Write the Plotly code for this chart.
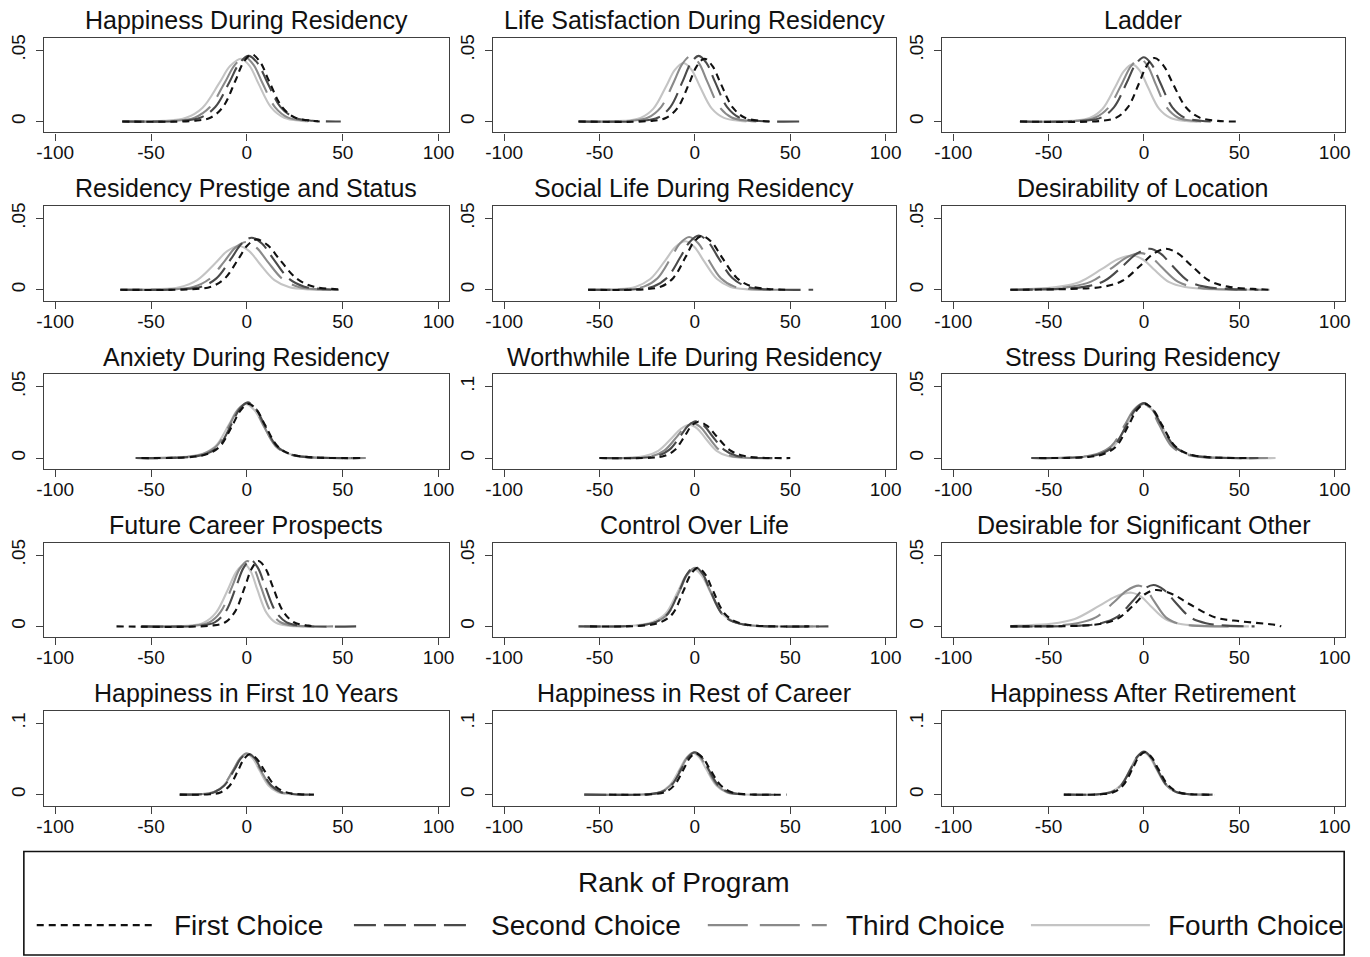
import plotly.graph_objects as go

W, H = 1370, 957

TITLES = [
    "Happiness During Residency", "Life Satisfaction During Residency", "Ladder",
    "Residency Prestige and Status", "Social Life During Residency", "Desirability of Location",
    "Anxiety During Residency", "Worthwhile Life During Residency", "Stress During Residency",
    "Future Career Prospects", "Control Over Life", "Desirable for Significant Other",
    "Happiness in First 10 Years", "Happiness in Rest of Career", "Happiness After Retirement",
]
Y_TOP_TICK = [.05, .05, .05, .05, .05, .05, .05, .1, .05, .05, .05, .05, .1, .1, .1]
Y_TOP_LABEL = [".05", ".05", ".05", ".05", ".05", ".05", ".05", ".1", ".05", ".05", ".05", ".05", ".1", ".1", ".1"]
X_TICKS = [-100, -50, 0, 50, 100]
X_TICK_LABELS = ["-100", "-50", "0", "50", "100"]
SERIES_NAMES = ["First Choice", "Second Choice", "Third Choice", "Fourth Choice"]
LEGEND_TITLE = "Rank of Program"

FIRST_X = [
    [-65, -27.3, -18.8, -12.4, -6, -1.75, 2.5, 7, 11.5, 18.3, 25, 34, 38],
    [-61, -23, -15, -9, -3, 1, 5, 9.25, 13.5, 19.9, 26.25, 34.75, 41],
    [-65, -22.5, -14.5, -8.5, -2.5, 1.5, 5.5, 10.25, 15, 22.1, 29.25, 38.75, 50],
    [-66, -28.25, -18.75, -11.6, -4.5, 0.25, 5, 11, 17, 26, 35, 47, 50],
    [-56, -26.1, -17.6, -11.3, -4.9, -0.65, 3.6, 8.85, 14.1, 22, 29.85, 40.35, 50],
    [-70, -38, -21, -11.3, -1.5, 5, 11.5, 18, 24.5, 34.3, 44, 57, 66],
    [-55, -28.75, -20.25, -13.9, -7.5, -3.25, 1, 5.25, 9.5, 15.9, 22.25, 30.75, 60],
    [-50, -22.8, -15.8, -10.55, -5.3, -1.8, 1.7, 6.45, 11.2, 18.3, 25.45, 34.95, 50],
    [-55, -29.25, -20.75, -14.4, -8, -3.75, 0.5, 5, 9.5, 16.25, 23, 32, 55],
    [-68, -18.5, -11.5, -6.25, -1, 2.5, 6, 9.75, 13.5, 19.1, 24.75, 32.25, 35],
    [-55, -24.75, -17.25, -11.6, -6, -2.25, 1.5, 5.5, 9.5, 15.5, 21.5, 29.5, 60],
    [-70, -32.5, -21.5, -13.25, -5, 0.5, 6, 15, 24, 37.5, 51, 69, 72],
    [-35, -19.5, -13.5, -9, -4.5, -1.5, 1.5, 5.25, 9, 14.6, 20.25, 27.75, 35],
    [-45, -22.25, -15.75, -10.9, -6, -2.75, 0.5, 4.25, 8, 13.6, 19.25, 26.75, 48],
    [-42, -22.25, -15.75, -10.9, -6, -2.75, 0.5, 4, 7.5, 12.75, 18, 25, 37],
]
FIRST_Y = [
    [0, .0005, .0028, .0103, .0285, .0415, .047, .0415, .0285, .0103, .0028, .0005, 0],
    [0, .0004, .0026, .0097, .0267, .0388, .044, .0388, .0267, .0097, .0026, .0004, 0],
    [0, .0004, .0027, .0098, .027, .0392, .0445, .0392, .027, .0098, .0027, .0004, 0],
    [0, .0004, .0021, .0078, .0214, .0311, .0353, .0311, .0214, .0078, .0021, .0004, 0],
    [0, .0004, .0023, .0083, .0229, .0333, .0377, .0333, .0229, .0083, .0023, .0004, 0],
    [0, .0006, .0022, .0063, .0174, .0253, .0287, .0253, .0174, .0063, .0022, .0006, 0],
    [0, .0008, .003, .0084, .0231, .0335, .038, .0335, .0231, .0084, .003, .0008, 0],
    [0, .0005, .0031, .0112, .031, .045, .051, .045, .031, .0112, .0031, .0005, 0],
    [0, .0008, .003, .0084, .0231, .0335, .038, .0335, .0231, .0084, .003, .0008, 0],
    [0, .0005, .0027, .0101, .0278, .0404, .0458, .0404, .0278, .0101, .0027, .0005, 0],
    [0, .0008, .0033, .009, .0249, .0362, .041, .0362, .0249, .009, .0033, .0008, 0],
    [0, .0005, .002, .0058, .0155, .0225, .0255, .0225, .0155, .0062, .0035, .001, 0],
    [0, .0006, .0034, .0125, .0344, .05, .0567, .05, .0344, .0125, .0034, .0006, 0],
    [0, .0006, .0035, .0128, .0352, .0512, .058, .0512, .0352, .0128, .0035, .0006, 0],
    [0, .0006, .0036, .0131, .0361, .0525, .0595, .0525, .0361, .0131, .0036, .0006, 0],
]

SECOND_X = [
    [-65, -34, -24, -16.5, -9, -4, 1, 5.75, 10.5, 17.6, 24.75, 34.25, 49],
    [-61, -27.75, -19.25, -12.9, -6.5, -2.25, 2, 6.25, 10.5, 16.9, 23.25, 31.75, 57],
    [-65, -31.5, -22.5, -15.75, -9, -4.5, 0, 4.25, 8.5, 14.9, 21.25, 29.75, 35],
    [-66, -34.25, -23.75, -15.9, -8, -2.75, 2.5, 8, 13.5, 21.75, 30, 41, 50],
    [-56, -31.25, -21.75, -14.6, -7.5, -2.75, 2, 7, 12, 19.5, 27, 37, 62],
    [-70, -44.25, -30.75, -20.6, -10.5, -3.75, 3, 8.75, 14.5, 23.1, 31.75, 43.25, 60],
    [-58, -29.25, -20.75, -14.4, -8, -3.75, 0.5, 4.75, 9, 15.4, 21.75, 30.25, 55],
    [-50, -27.5, -19.5, -13.5, -7.5, -3.5, 0.5, 4.75, 9, 15.4, 21.75, 30.25, 42],
    [-59, -31.5, -22.5, -15.75, -9, -4.5, 0, 4.5, 9, 15.75, 22.5, 31.5, 60],
    [-55, -24.25, -16.75, -11.1, -5.5, -1.75, 2, 5.75, 9.5, 15.1, 20.75, 28.25, 57],
    [-61, -28, -20, -14, -8, -4, 0, 4, 8, 14, 20, 28, 70],
    [-70, -33.5, -22.5, -14.25, -6, -0.5, 5, 10.5, 16, 24.25, 32.5, 43.5, 58],
    [-35, -24, -17, -11.75, -6.5, -3, 0.5, 4, 7.5, 12.75, 18, 25, 33],
    [-58, -24.5, -17.5, -12.25, -7, -3.5, 0, 3.5, 7, 12.25, 17.5, 24.5, 45],
    [-42, -23.8, -17, -11.9, -6.8, -3.4, 0, 3.4, 6.8, 11.9, 17, 23.8, 36],
]
SECOND_Y = [
    [0, .0005, .0028, .0101, .0279, .0406, .046, .0406, .0279, .0101, .0028, .0005, 0],
    [0, .0005, .0028, .0101, .0279, .0406, .046, .0406, .0279, .0101, .0028, .0005, 0],
    [0, .0005, .0027, .0099, .0273, .0397, .045, .0397, .0273, .0099, .0027, .0005, 0],
    [0, .0004, .0022, .008, .0222, .0322, .0365, .0322, .0222, .008, .0022, .0004, 0],
    [0, .0004, .0023, .0084, .0231, .0335, .038, .0335, .0231, .0084, .0023, .0004, 0],
    [0, .0006, .0022, .0063, .0174, .0253, .0287, .0253, .0174, .0063, .0022, .0006, 0],
    [0, .0008, .0031, .0086, .0237, .0344, .039, .0344, .0237, .0086, .0031, .0008, 0],
    [0, .0005, .0031, .0114, .0313, .0455, .0516, .0455, .0313, .0114, .0031, .0005, 0],
    [0, .0008, .0031, .0085, .0234, .034, .0385, .034, .0234, .0085, .0031, .0008, 0],
    [0, .0005, .0028, .0102, .0282, .041, .0465, .041, .0282, .0102, .0028, .0005, 0],
    [0, .0008, .0033, .0092, .0254, .0369, .0418, .0369, .0254, .0092, .0033, .0008, 0],
    [0, .0005, .0022, .0064, .0176, .0256, .029, .0256, .0176, .0064, .0022, .0005, 0],
    [0, .0006, .0035, .0128, .0352, .0512, .058, .0512, .0352, .0128, .0035, .0006, 0],
    [0, .0006, .0036, .0131, .0361, .0525, .0595, .0525, .0361, .0131, .0036, .0006, 0],
    [0, .0006, .0036, .0133, .0367, .0534, .0605, .0534, .0367, .0133, .0036, .0006, 0],
]

THIRD_X = [
    [-65, -37.75, -27.25, -19.4, -11.5, -6.25, -1, 3.5, 8, 14.75, 21.5, 30.5, 34],
    [-61, -33.5, -24.5, -17.75, -11, -6.5, -2, 2.25, 6.5, 12.9, 19.25, 27.75, 33],
    [-65, -35.25, -25.75, -18.6, -11.5, -6.75, -2, 2, 6, 12, 18, 26, 30],
    [-66, -39, -28, -19.75, -11.5, -6, -0.5, 5, 10.5, 18.75, 27, 38, 45],
    [-56, -36.25, -26.75, -19.6, -12.5, -7.75, -3, 1.75, 6.5, 13.6, 20.75, 30.25, 45],
    [-70, -54, -39, -27.75, -16.5, -9, -1.5, 4, 9.5, 17.75, 26, 37, 62],
    [-58, -31.5, -22.5, -15.75, -9, -4.5, 0, 4.25, 8.5, 14.9, 21.25, 29.75, 62],
    [-50, -30.75, -22.25, -15.9, -9.5, -5.25, -1, 3, 7, 13, 19, 27, 40],
    [-59, -33.75, -24.25, -17.1, -10, -5.25, -0.5, 3.75, 8, 14.4, 20.75, 29.25, 65],
    [-55, -27.7, -19.7, -13.7, -7.7, -3.7, 0.3, 3.8, 7.3, 12.55, 17.8, 24.8, 45],
    [-58, -28, -20, -14, -8, -4, 0, 4, 8, 14, 20, 28, 65],
    [-70, -48, -35, -25.25, -15.5, -9, -2.5, 1.5, 5.5, 11.5, 17.5, 25.5, 50],
    [-35, -24.5, -17.5, -12.25, -7, -3.5, 0, 3.5, 7, 12.25, 17.5, 24.5, 30],
    [-58, -25, -18, -12.75, -7.5, -4, -0.5, 3, 6.5, 11.75, 17, 24, 40],
    [-40, -23.8, -17, -11.9, -6.8, -3.4, 0, 3.4, 6.8, 11.9, 17, 23.8, 34],
]
THIRD_Y = [
    [0, .0005, .0027, .0099, .0273, .0397, .045, .0397, .0273, .0099, .0027, .0005, 0],
    [0, .0005, .0028, .0101, .0279, .0406, .046, .0406, .0279, .0101, .0028, .0005, 0],
    [0, .0004, .0026, .0097, .0267, .0388, .044, .0388, .0267, .0097, .0026, .0004, 0],
    [0, .0003, .002, .0074, .0203, .0295, .0335, .0295, .0203, .0074, .002, .0003, 0],
    [0, .0004, .0022, .0081, .0225, .0326, .037, .0326, .0225, .0081, .0022, .0004, 0],
    [0, .0005, .002, .0057, .0156, .0227, .0257, .0227, .0156, .0057, .002, .0005, 0],
    [0, .0008, .0031, .0085, .0234, .034, .0385, .034, .0234, .0085, .0031, .0008, 0],
    [0, .0005, .0029, .0108, .0297, .0432, .049, .0432, .0297, .0108, .0029, .0005, 0],
    [0, .0008, .0031, .0084, .0233, .0339, .0384, .0339, .0233, .0084, .0031, .0008, 0],
    [0, .0005, .0027, .0101, .0278, .0404, .0458, .0404, .0278, .0101, .0027, .0005, 0],
    [0, .0008, .0033, .009, .0249, .0362, .041, .0362, .0249, .009, .0033, .0008, 0],
    [0, .0005, .0022, .0063, .0173, .0251, .0285, .0251, .0173, .0063, .0022, .0005, 0],
    [0, .0006, .0035, .0128, .0352, .0512, .058, .0512, .0352, .0128, .0035, .0006, 0],
    [0, .0006, .0035, .013, .0358, .052, .059, .052, .0358, .013, .0035, .0006, 0],
    [0, .0006, .0036, .0132, .0364, .0529, .06, .0529, .0364, .0132, .0036, .0006, 0],
]

FOURTH_X = [
    [-65, -43.25, -31.75, -23.1, -14.5, -8.75, -3, 1.5, 6, 12.75, 19.5, 28.5, 32],
    [-61, -37.5, -28.5, -21.75, -15, -10.5, -6, -1.75, 2.5, 8.9, 15.25, 23.75, 27],
    [-65, -37.5, -28.5, -21.75, -15, -10.5, -6, -2, 2, 8, 14, 22, 28],
    [-66, -47.75, -35.25, -25.9, -16.5, -10.25, -4, 1.25, 6.5, 14.4, 22.25, 32.75, 40],
    [-56, -41.75, -31.25, -23.4, -15.5, -10.25, -5, -0.25, 4.5, 11.6, 18.75, 28.25, 40],
    [-70, -62, -46, -34, -22, -14, -6, -0.5, 5, 13.25, 21.5, 32.5, 66],
    [-55, -32, -23, -16.25, -9.5, -5, -0.5, 4, 8.5, 15.25, 22, 31, 62],
    [-50, -35.85, -26.35, -19.2, -12.1, -7.35, -2.6, 1.4, 5.4, 11.4, 17.4, 25.4, 37],
    [-59, -31.5, -22.5, -15.75, -9, -4.5, 0, 4.5, 9, 15.75, 22.5, 31.5, 69],
    [-55, -30.95, -22.45, -16.1, -9.7, -5.45, -1.2, 2.05, 5.3, 10.2, 15.05, 21.55, 30],
    [-61, -30.25, -21.75, -15.4, -9, -4.75, -0.5, 3.75, 8, 14.4, 20.75, 29.25, 62],
    [-70, -66, -49, -36.25, -23.5, -15, -6.5, -1.5, 3.5, 11, 18.5, 28.5, 55],
    [-35, -24.5, -17.5, -12.25, -7, -3.5, 0, 3.25, 6.5, 11.4, 16.25, 22.75, 28],
    [-58, -25.5, -18.5, -13.25, -8, -4.5, -1, 2.5, 6, 11.25, 16.5, 23.5, 38],
    [-40, -24.1, -17.3, -12.2, -7.1, -3.7, -0.3, 3.1, 6.5, 11.6, 16.7, 23.5, 33],
]
FOURTH_Y = [
    [0, .0004, .0026, .0097, .0267, .0388, .044, .0388, .0267, .0097, .0026, .0004, 0],
    [0, .0004, .0025, .009, .0249, .0362, .041, .0362, .0249, .009, .0025, .0004, 0],
    [0, .0004, .0024, .0088, .0243, .0353, .04, .0353, .0243, .0088, .0024, .0004, 0],
    [0, .0003, .0018, .0068, .0186, .0271, .0307, .0271, .0186, .0068, .0018, .0003, 0],
    [0, .0003, .002, .0075, .0206, .03, .034, .03, .0206, .0075, .002, .0003, 0],
    [0, .0005, .0019, .0053, .0146, .0212, .024, .0212, .0146, .0053, .0019, .0005, 0],
    [0, .0008, .003, .0084, .0231, .0335, .038, .0335, .0231, .0084, .003, .0008, 0],
    [0, .0005, .0028, .0102, .0282, .041, .0465, .041, .0282, .0102, .0028, .0005, 0],
    [0, .0008, .003, .0084, .0231, .0335, .038, .0335, .0231, .0084, .003, .0008, 0],
    [0, .0004, .0026, .0096, .0264, .0384, .0435, .0384, .0264, .0096, .0026, .0004, 0],
    [0, .0008, .0032, .0088, .0243, .0353, .04, .0353, .0243, .0088, .0032, .0008, 0],
    [0, .0005, .0018, .0052, .0143, .0208, .0236, .0208, .0143, .0052, .0018, .0005, 0],
    [0, .0006, .0034, .0125, .0346, .0503, .057, .0503, .0346, .0125, .0034, .0006, 0],
    [0, .0006, .0035, .0129, .0355, .0516, .0585, .0516, .0355, .0129, .0035, .0006, 0],
    [0, .0006, .0036, .0131, .0361, .0525, .0595, .0525, .0361, .0131, .0036, .0006, 0],
]

# ---- styling (not data) ----
FONT = "Liberation Sans, Arial, Helvetica, sans-serif"
STYLES = [
    dict(color="#111111", dash="7px,5px", width=2.1),
    dict(color="#4a4a4a", dash="22px,8px", width=2.1),
    dict(color="#8a8a8a", dash="40px,12px", width=2.1),
    dict(color="#c4c4c4", dash="solid", width=2.1),
]
SERIES = [(FIRST_X, FIRST_Y), (SECOND_X, SECOND_Y), (THIRD_X, THIRD_Y), (FOURTH_X, FOURTH_Y)]

COLS_PX = [(37, 446), (490, 897), (943, 1350)]
ROW_TOP0, ROW_BOT0, ROW_STEP = 34, 129, 169
AXIS_COLOR = "#404040"

fig = go.Figure()
layout = dict(
    width=W, height=H, margin=dict(l=0, r=0, t=0, b=0),
    paper_bgcolor="white", plot_bgcolor="white", showlegend=False,
    font=dict(family=FONT, color="#111111"),
)
annotations = []
shapes = []

for i in range(15):
    r, c = divmod(i, 3)
    n = i + 1
    xk = "xaxis" if n == 1 else f"xaxis{n}"
    yk = "yaxis" if n == 1 else f"yaxis{n}"
    xref = "x" if n == 1 else f"x{n}"
    yref = "y" if n == 1 else f"y{n}"
    x0p, x1p = COLS_PX[c]
    t = ROW_TOP0 + r * ROW_STEP
    b = ROW_BOT0 + r * ROW_STEP
    top = Y_TOP_TICK[i]
    layout[xk] = dict(
        domain=[x0p / W, x1p / W], range=[-106, 105.5], anchor=yref,
        tickmode="array", tickvals=X_TICKS, ticktext=X_TICK_LABELS,
        ticks="outside", ticklen=7, tickwidth=1.3, tickcolor=AXIS_COLOR,
        showline=True, mirror=True, linecolor=AXIS_COLOR, linewidth=1.3,
        showgrid=False, zeroline=False, tickfont=dict(size=19, family=FONT, color="#111111"),
        ticklabelstandoff=-4, fixedrange=True,
    )
    layout[yk] = dict(
        domain=[1 - b / H, 1 - t / H], range=[-0.0077 * top / .05, 0.0586 * top / .05], anchor=xref,
        tickmode="array", tickvals=[0, top], ticktext=["0", Y_TOP_LABEL[i]],
        tickangle=-90, ticks="outside", ticklen=7, tickwidth=1.3, tickcolor=AXIS_COLOR,
        showline=True, mirror=True, linecolor=AXIS_COLOR, linewidth=1.3,
        showgrid=False, zeroline=False, tickfont=dict(size=19, family=FONT, color="#111111"),
        ticklabelstandoff=3, fixedrange=True,
    )
    for s in (3, 2, 1, 0):
        xs, ys = SERIES[s]
        st = STYLES[s]
        fig.add_trace(go.Scatter(
            x=xs[i], y=ys[i], mode="lines", xaxis=xref, yaxis=yref,
            name=SERIES_NAMES[s], hoverinfo="skip",
            line=dict(color=st["color"], dash=st["dash"], width=st["width"], shape="spline", smoothing=1.0),
        ))
    annotations.append(dict(
        text=TITLES[i], xref="paper", yref="paper",
        x=(x0p + x1p) / 2 / W, y=1 - (t - 18) / H, xanchor="center", yanchor="middle",
        showarrow=False, font=dict(size=25, family=FONT, color="#111111"),
    ))

# legend box drawn manually
LB = dict(x0=17, x1=1349, y0=851, y1=955)
shapes.append(dict(type="rect", xref="paper", yref="paper",
                   x0=LB["x0"] / W, x1=LB["x1"] / W, y0=1 - LB["y1"] / H, y1=1 - LB["y0"] / H,
                   line=dict(color="#111111", width=1.6), fillcolor="rgba(0,0,0,0)"))
annotations.append(dict(text=LEGEND_TITLE, xref="paper", yref="paper", x=683 / W, y=1 - 882 / H,
                        xanchor="center", yanchor="middle", showarrow=False,
                        font=dict(size=28, family=FONT, color="#111111")))
LEG_LINES = [(30, 148, 166), (350, 465, 486), (707, 827, 844), (1033, 1153, 1169)]
LEG_Y = 925
for s, (lx0, lx1, tx) in enumerate(LEG_LINES):
    st = STYLES[s]
    shapes.append(dict(type="line", xref="paper", yref="paper",
                       x0=lx0 / W, x1=lx1 / W, y0=1 - LEG_Y / H, y1=1 - LEG_Y / H,
                       line=dict(color=st["color"], dash=st["dash"], width=2.4)))
    annotations.append(dict(text=SERIES_NAMES[s], xref="paper", yref="paper", x=tx / W, y=1 - LEG_Y / H,
                            xanchor="left", yanchor="middle", showarrow=False,
                            font=dict(size=28, family=FONT, color="#111111")))

layout["annotations"] = annotations
layout["shapes"] = shapes
fig.update_layout(**layout)

fig.write_html("out.html", include_plotlyjs=True, config={"displayModeBar": False},
               post_script="document.body.style.margin='0px';document.body.style.overflow='hidden';")
